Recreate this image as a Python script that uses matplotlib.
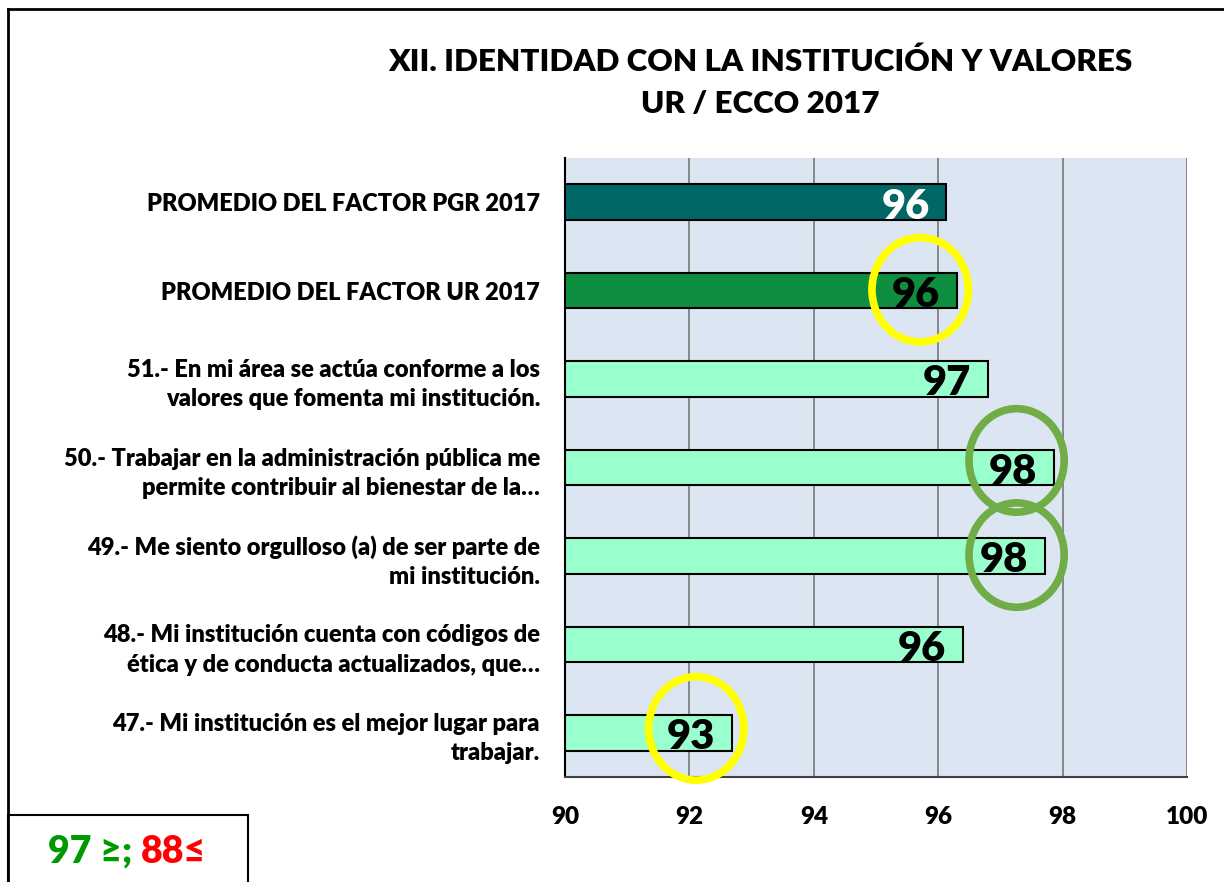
import numpy as np
import matplotlib
matplotlib.use('Agg')
import matplotlib.pyplot as plt
from matplotlib.patches import Ellipse, Rectangle
from matplotlib.lines import Line2D

# ─── Data ─────────────────────────────────────────────────────────────────────
categories = [
    'PROMEDIO DEL FACTOR PGR 2017',
    'PROMEDIO DEL FACTOR UR 2017',
    '51.- En mi área se actúa conforme a los\nvalores que fomenta mi institución.',
    '50.- Trabajar en la administración pública me\npermite contribuir al bienestar de la…',
    '49.- Me siento orgulloso (a) de ser parte de\nmi institución.',
    '48.- Mi institución cuenta con códigos de\nética y de conducta actualizados, que…',
    '47.- Mi institución es el mejor lugar para\ntrabajar.',
]
values = [96.13, 96.3, 96.8, 97.86, 97.72, 96.4, 92.68]
bar_colors = ['#006666', '#0E8F3F', '#99FFCC', '#99FFCC', '#99FFCC', '#99FFCC', '#99FFCC']
label_colors = ['white', 'black', 'black', 'black', 'black', 'black', 'black']

# highlight circles: row, centre (data units), width, height, colour
circle_rows = [1, 3, 4, 6]
circle_x = [95.71, 97.26, 97.26, 92.11]
circle_dy = [-0.01, -0.08, -0.01, -0.05]
circle_w = [1.55, 1.53, 1.53, 1.53]
circle_h = [1.18, 1.17, 1.18, 1.17]
circle_colors = ['#FFFF00', '#70AD47', '#70AD47', '#FFFF00']

xticks = [90, 92, 94, 96, 98, 100]

FONT = 'Lato'
WEIGHT = 'heavy'
plt.rcParams['font.family'] = [FONT, 'DejaVu Sans']

fig = plt.figure(figsize=(12.24, 8.82), dpi=100)
ax = fig.add_axes([0.4616, 0.119, 0.5082, 0.7019])

y = np.arange(len(categories))
ax.barh(y, np.array(values) - 90, left=90, height=0.4, color=bar_colors,
        edgecolor='black', linewidth=1.5, zorder=3)

ax.set_xlim(90, 100)
ax.set_ylim(len(categories) - 0.5, -0.5)
ax.set_facecolor('#DCE6F2')
ax.set_xticks(xticks)
ax.set_xticklabels([str(t) for t in xticks], fontsize=17.5, fontweight=WEIGHT)
ax.set_yticks(y)
ax.set_yticklabels(categories, fontsize=17, fontweight=WEIGHT, linespacing=1.4)
ax.tick_params(axis='both', length=0)
ax.tick_params(axis='x', pad=21)
ax.tick_params(axis='y', pad=18)
ax.xaxis.grid(True, color='#808080', linewidth=1.3, zorder=0)
ax.set_axisbelow(True)
for s in ['top', 'right']:
    ax.spines[s].set_visible(False)
ax.spines['left'].set_linewidth(1.5)
ax.spines['bottom'].set_linewidth(1.5)
ax.spines['bottom'].set_color('#404040')

for i, v in enumerate(values):
    ax.text(v - 0.27, i + 0.05, f'{round(v):.0f}', ha='right', va='center',
            fontsize=30, fontweight=WEIGHT, color=label_colors[i], zorder=5)

for r, cx, dy, w, h, col in zip(circle_rows, circle_x, circle_dy, circle_w,
                                circle_h, circle_colors):
    ax.add_patch(Ellipse((cx, r + dy), w, h, fill=False, edgecolor=col,
                         linewidth=5.5, zorder=6, clip_on=False))

fig.text(0.621, 0.93, 'XII. IDENTIDAD CON LA INSTITUCIÓN Y VALORES',
         ha='center', va='center', fontsize=22.6, fontweight=WEIGHT)
fig.text(0.621, 0.882, 'UR / ECCO 2017',
         ha='center', va='center', fontsize=22.6, fontweight=WEIGHT)

# outer frame
fig.add_artist(Line2D([8 / 1224, 8 / 1224], [0, 1 - 9 / 882], color='black', linewidth=2))
fig.add_artist(Line2D([8 / 1224, 1], [1 - 9 / 882, 1 - 9 / 882], color='black', linewidth=2))

# threshold box
fig.add_artist(Rectangle((8 / 1224, -0.01), 240 / 1224, (882 - 815) / 882 + 0.01,
                         transform=fig.transFigure, fill=False,
                         edgecolor='black', linewidth=1.5))
t1 = fig.text(48 / 1224, 1 - 852 / 882, '97 ≥; ', ha='left', va='center',
              fontsize=27, fontweight=WEIGHT, color='#009900')
fig.canvas.draw()
bb = t1.get_window_extent()
fig.text(bb.x1 / 1224, 1 - 852 / 882, '88≤', ha='left', va='center',
         fontsize=27, fontweight=WEIGHT, color='#FF0000')

plt.savefig('out.png', dpi=100)
plt.close()
